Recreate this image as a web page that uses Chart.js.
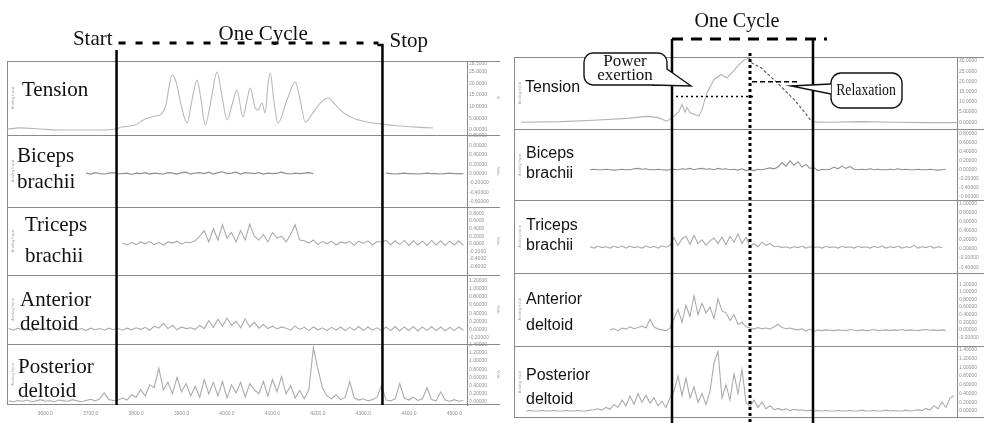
<!DOCTYPE html>
<html>
<head>
<meta charset="utf-8">
<title>Muscle activity over one cycle</title>
<script src="https://cdn.jsdelivr.net/npm/chart.js@4.4.1/dist/chart.umd.min.js"></script>
<style>
  html, body { margin: 0; padding: 0; background: #fff; }
  #wrap { position: relative; width: 984px; height: 423px; overflow: hidden; }
  #leftChart { position: absolute; left: 0; top: 0; }
  #rightChart { position: absolute; left: 494px; top: 0; }
</style>
</head>
<body>
<div id="wrap">
  <canvas id="leftChart" width="502" height="423"></canvas>
  <canvas id="rightChart" width="490" height="423"></canvas>
</div>
<script>
// ─── Time bases ──────────────────────────────────────────────────────────────
const leftT0 = 3520, leftDt = 10;      // left recording, sample spacing
const rightT0 = 0, rightDt = 4;        // right recording, sample spacing
const leftXRange = [3516, 4528];
const rightXRange = [0, 443];
const leftXTicks = [3600, 3700, 3800, 3900, 4000, 4100, 4200, 4300, 4400, 4500];

// ─── Cycle markers ───────────────────────────────────────────────────────────
const leftCycle = [3757, 4342];              // start, stop
const rightPhase = [158, 236, 299];          // power start, peak, relaxation end
const rightCycleBarEnd = 313;
const rightPowerLevel = 12.6, rightPowerSpan = [162, 240];
const rightRelaxLevel = 19.9, rightRelaxSpan = [238, 286];

// ─── Axis ranges and tick labels ─────────────────────────────────────────────
const tensionLRange = [-2.14, 29.5],  tensionLTicks = [0, 5, 10, 15, 20, 25, 28.5];
const bicepsLRange = [-0.71, 0.82],   bicepsLTicks = [0.8, 0.6, 0.4, 0.2, 0, -0.2, -0.4, -0.6];
const tricepsLRange = [-0.82, 0.97],  tricepsLTicks = [0.8, 0.6, 0.4, 0.2, 0, -0.2, -0.4, -0.6];
const anteriorLRange = [-0.36, 1.34], anteriorLTicks = [1.2, 1.0, 0.8, 0.6, 0.4, 0.2, 0, -0.2];
const posteriorLRange = [-0.07, 1.41], posteriorLTicks = [1.4, 1.2, 1.0, 0.8, 0.6, 0.4, 0.2, 0];

const tensionRRange = [-3.4, 32],     tensionRTicks = [0, 5, 10, 15, 20, 25, 30];
const bicepsRRange = [-0.69, 0.91],   bicepsRTicks = [0.8, 0.6, 0.4, 0.2, 0, -0.2, -0.4, -0.6];
const tricepsRRange = [-0.52, 1.07],  tricepsRTicks = [1.0, 0.8, 0.6, 0.4, 0.2, 0, -0.2, -0.4];
const anteriorRRange = [-0.42, 1.51], anteriorRTicks = [1.2, 1.0, 0.8, 0.6, 0.4, 0.2, 0, -0.2];
const posteriorRRange = [-0.16, 1.49], posteriorRTicks = [1.4, 1.2, 1.0, 0.8, 0.6, 0.4, 0.2, 0];

// ─── Left recording: tension (N) ─────────────────────────────────────────────
const tensionLTime = [3516, 3545, 3589, 3633, 3677, 3721, 3754, 3769, 3798, 3820, 3842, 3855,
  3866, 3872, 3879, 3888, 3899, 3912, 3923, 3934, 3943, 3952, 3965, 3978, 3989, 4000, 4011,
  4022, 4035, 4044, 4051, 4062, 4068, 4077, 4084, 4090, 4095, 4103, 4112, 4132, 4150, 4161,
  4172, 4189, 4205, 4222, 4235, 4249, 4277, 4308, 4337, 4381, 4425, 4453];
const tensionLVal = [0.4, 0.9, 0.4, 0, 0, 0, 0.4, 1.3, 2.1, 4.7, 6.0, 6.8,
  11.1, 17.9, 23.5, 20.5, 10.7, 3.0, 12.8, 21.4, 12.8, 2.1, 12.8, 24.8, 14.5, 4.3, 10.7,
  17.1, 5.6, 12.8, 17.9, 9.4, 8.5, 11.5, 7.3, 19.2, 24.4, 12.8, 3.0, 12.8, 20.5, 12.8,
  3.4, 7.3, 11.5, 13.7, 11.5, 8.5, 5.1, 3.4, 2.6, 1.7, 1.1, 0.9];

// ─── Left recording: EMG (V) ─────────────────────────────────────────────────
const bicepsL = [null, null, null, null, null, null, null, null, null, null, null, null, null, null, null, null, null,
  0.01, -0.01, 0.02, 0.00, -0.01, 0.01,
  0.02, -0.01, 0.00, 0.01, -0.02, 0.01, 0.00, 0.02, -0.01, 0.01, 0.00, -0.01, 0.02, 0.01, -0.01, 0.02, 0.03, -0.01, 0.01, 0.02,
  0.00, 0.03, -0.01, 0.02, 0.04, 0.00, 0.01, 0.03, -0.01, 0.02, 0.01, 0.00, 0.02, -0.01, 0.01, 0.00, 0.01, 0.03, 0.00, -0.01,
  0.01, 0.00, 0.01, 0.02, 0.00,
  null, null, null, null, null, null, null, null, null, null, null, null, null, null, null,
  0.01, 0.00, -0.01, 0.00, 0.01, 0.00, 0.00, -0.01, 0.00, 0.01, 0.00, 0.00, -0.01, 0.00, 0.01, 0.00, 0.00, 0.00];
const tricepsL = [null, null, null, null, null, null, null, null, null, null, null, null, null, null, null, null, null,
  null, null, null, null, null, null, null, null,
  0.02, -0.03, 0.04, -0.02, 0.05, 0.00, 0.06, -0.02, 0.04, -0.03, 0.05, 0.02, 0.07, -0.01, 0.05, 0.03, 0.08,
  0.20, 0.35, 0.05, 0.40, 0.10, 0.50, 0.15, 0.30, 0.05, 0.35, 0.10, 0.52, 0.20, 0.10, 0.25, 0.05, 0.30, 0.15, 0.20, 0.05,
  0.25, 0.50, 0.10,
  0.08, 0.02, 0.10, -0.02, 0.06, 0.00, 0.07, -0.03, 0.05, 0.02, 0.06, -0.04, 0.07, 0.01, 0.08, -0.03, 0.06, 0.05, 0.09, -0.03,
  0.08, -0.02, 0.09, -0.04, 0.08, -0.03, 0.07, -0.04, 0.09, -0.03, 0.08, -0.04, 0.07, -0.03, 0.08, -0.04];
const anteriorL = [0.02, -0.02, 0.03, -0.01, 0.02, -0.03, 0.03, 0.00, 0.02, -0.02, 0.03, -0.02, 0.04, -0.01, 0.03, -0.02,
  0.02, -0.03, 0.03, -0.01, 0.02, -0.02, 0.03, -0.01,
  0.02, -0.02, 0.03, -0.01, 0.04, 0.00, 0.05, -0.02, 0.08, 0.03, 0.15, 0.02, 0.10, -0.01, 0.06, 0.02, 0.04, 0.00,
  0.10, 0.02, 0.22, 0.05, 0.25, 0.08, 0.28, 0.10, 0.20, 0.04, 0.26, 0.06, 0.18, 0.03, 0.12, 0.02, 0.08, 0.01, 0.06,
  0.03, -0.02, 0.08, 0.00, 0.05, -0.03, 0.06, -0.01, 0.04, -0.03, 0.05, -0.02, 0.06, -0.03, 0.05, -0.02, 0.07, -0.03, 0.06, -0.02,
  0.04, -0.03, 0.06, -0.03, 0.07, -0.04, 0.06, -0.03, 0.07, -0.04, 0.06, -0.03, 0.07, -0.03, 0.06, -0.04, 0.05, -0.03, 0.06, -0.02];
const posteriorL = [0.03, 0.01, 0.04, 0.02, 0.05, 0.01, 0.03, 0.06, 0.02, 0.04, 0.01, 0.05, 0.03, 0.02, 0.06, 0.03,
  0.01, 0.04, 0.07, 0.03, 0.08, 0.22, 0.06,
  0.04, 0.05, 0.10, 0.05, 0.18, 0.12, 0.30, 0.15, 0.42, 0.35, 0.82, 0.30, 0.48, 0.20, 0.60, 0.25, 0.45, 0.15,
  0.38, 0.12, 0.55, 0.20, 0.48, 0.15, 0.50, 0.10, 0.42, 0.22, 0.48, 0.12, 0.45, 0.30, 0.20, 0.50, 0.15, 0.55, 0.25, 0.62,
  0.20, 0.40, 0.10, 0.28,
  0.08, 0.30, 1.32, 0.80, 0.35, 0.15, 0.08, 0.18, 0.06, 0.12, 0.50, 0.10, 0.05, 0.08, 0.03, 0.06, 0.12, 0.40,
  0.05, 0.03, 0.08, 0.45, 0.10, 0.05, 0.12, 0.04, 0.08, 0.35, 0.06, 0.03, 0.25, 0.05, 0.02, 0.06, 0.02, 0.04];

// ─── Right recording: tension (N) ────────────────────────────────────────────
const tensionRTime = [7, 47, 80, 113, 133, 143, 153, 160, 165, 168, 171, 173, 176, 180, 185, 188, 193,
  200, 207, 213, 218, 225, 230, 235, 238, 247, 263, 280, 290, 298, 313, 347, 380, 413, 443];
const tensionRVal = [0, 0.3, 1.0, 1.9, 2.9, 2.4, 0.5, 3.0, 5.3, 8.7, 5.0, 7.2, 4.8, 3.9, 3.0, 6.3, 14.5,
  21, 23.3, 21.8, 24.3, 28.2, 30.6, 31.5, 29, 26.7, 19.4, 11.2, 5.3, 0.2, 0, 0.3, 0, -0.2, -0.2];

// ─── Right recording: EMG (V) ────────────────────────────────────────────────
const bicepsR = [null, null, null, null, null, null, null, null, null, null, null, null, null, null, null, null, null, null, null,
  0.00, 0.01, 0.00, 0.00, 0.01, 0.00, -0.01, 0.00, 0.01, 0.00, 0.00, 0.02, 0.03, 0.01, 0.02, 0.00, 0.00, 0.01, 0.00, -0.01,
  0.00, 0.01, 0.00, 0.02, 0.01, 0.03, 0.00, 0.02, 0.03, 0.01, 0.02, 0.00, 0.03, 0.01, 0.02, 0.00, 0.01, -0.01, 0.02, -0.02,
  0.00, -0.02, 0.01, 0.00, 0.02, 0.04, 0.02, 0.06, 0.16, 0.08, 0.20, 0.10, 0.18, 0.06, 0.12, 0.03,
  0.05, -0.02, 0.01, 0.00, 0.01, 0.06, 0.02, 0.08, 0.03, 0.07, 0.01, 0.00, 0.01, 0.00, 0.02, 0.00, 0.01, 0.00, 0.00, 0.01,
  0.00, 0.02, 0.00, 0.01, 0.00, 0.00, 0.01, 0.00, 0.00, 0.01, 0.00, -0.01, 0.00, 0.01,
  null, null];
const tricepsR = [null, null, null, null, null, null, null, null, null, null, null, null, null, null, null, null, null, null, null,
  0.05, 0.02, 0.06, 0.03, 0.05, 0.02, 0.06, 0.03, 0.07, 0.02, 0.06, 0.03, 0.05, 0.02, 0.07, 0.03, 0.06, 0.02, 0.07, 0.04, 0.08,
  0.25, 0.08, 0.22, 0.28, 0.10, 0.30, 0.12, 0.20, 0.08, 0.18, 0.24, 0.12, 0.26, 0.10, 0.28, 0.15, 0.33, 0.12, 0.26,
  0.06, 0.12, 0.05, 0.15, 0.08, 0.12, 0.05, 0.06, 0.03, 0.05,
  0.02, 0.05, 0.03, 0.06, 0.02, 0.05, 0.03, 0.05, 0.02, 0.06, 0.03, 0.05, 0.02, 0.06, 0.03, 0.05, 0.02, 0.06, 0.03, 0.05,
  0.02, 0.06, 0.03, 0.07, 0.02, 0.05, 0.03, 0.06, 0.02, 0.05, 0.03, 0.08, 0.02, 0.05, 0.03, 0.06, 0.02, 0.05, 0.03,
  null, null, null];
const anteriorR = [null, null, null, null, null, null, null, null, null, null, null, null, null, null, null, null, null, null, null,
  null, null, null, null, null,
  0.00, 0.03, -0.02, 0.05, 0.02, 0.08, 0.03, 0.06, 0.10, 0.05, 0.28, 0.08, 0.02, 0.00, -0.02, 0.05,
  0.30, 0.55, 0.20, 0.65, 0.35, 0.90, 0.40, 0.70, 0.45, 0.60, 0.30, 0.82, 0.50, 0.45, 0.25, 0.40, 0.15, 0.20, 0.08,
  0.05, 0.02, 0.06, 0.03, 0.05, 0.02, 0.08, 0.15, 0.06, 0.03, 0.05, 0.02, 0.00, 0.03, -0.03, 0.02, -0.04, 0.00,
  -0.02, 0.00, -0.01, -0.02, 0.00, -0.01, -0.02, 0.01, -0.01, -0.02, 0.00, -0.02, -0.01, 0.01, -0.02, -0.01,
  0.00, -0.02, 0.00, -0.01, 0.01, -0.02, 0.00, -0.01, -0.02, 0.00, 0.01, -0.01, 0.00, -0.02, 0.00, -0.01,
  null, null];
const posteriorR = [null, null, null,
  0.00, 0.01, 0.00, 0.00, 0.01, 0.00, 0.00, 0.01, 0.00, 0.00, 0.01, 0.00, 0.00, 0.01, 0.00, 0.00, 0.02,
  0.03, 0.05, 0.02, 0.08, 0.04, 0.15, 0.08, 0.25, 0.12, 0.34, 0.15, 0.40, 0.20, 0.36, 0.18,
  0.30, 0.12, 0.22, 0.08, 0.30,
  0.45, 0.80, 0.35, 0.75, 0.30, 0.55, 0.20, 0.40, 0.15, 0.45, 1.10, 1.36, 0.30, 0.60, 0.25, 0.85, 0.40, 0.95, 0.20,
  0.10, 0.25, 0.08, 0.20, 0.05, 0.12, 0.03, 0.06, 0.02, 0.05, 0.01, 0.04, 0.02, 0.03, 0.00, 0.02, 0.00, 0.01,
  0.00, 0.01, 0.00, 0.00, 0.01, 0.00, 0.00, 0.01, 0.00, 0.00, 0.02, 0.00, 0.00, 0.01, 0.00, 0.00, 0.02, 0.00, 0.01, 0.00,
  0.00, 0.02, 0.00, 0.01, 0.03, 0.01,
  0.06, 0.02, 0.12, 0.05, 0.20, 0.08, 0.30, 0.35];

// ─── Helpers ─────────────────────────────────────────────────────────────────
const TRACE = '#ababab';
const FRAME = '#8a8a8a';

function fmtTick(v, dec) {
  return Math.abs(v) >= 1 ? v.toPrecision(dec + 1) : v.toFixed(dec);
}

function sampled(values, t0, dt) {
  return values.map((v, i) => ({ x: t0 + i * dt, y: v }));
}

function paired(times, values) {
  return times.map((t, i) => ({ x: t, y: values[i] }));
}

function trace(data, axis, color) {
  return { data, yAxisID: axis, borderColor: color || TRACE, borderWidth: 1.1,
           pointRadius: 0, fill: false, spanGaps: false, tension: 0 };
}

function yAxis(stack, weight, range, ticks, dec, unit, colW) {
  return {
    type: 'linear', position: 'right', stack: stack, stackWeight: weight,
    min: range[0], max: range[1],
    grid: { display: false, drawTicks: false },
    border: { display: true, color: FRAME },
    afterBuildTicks: s => { s.ticks = ticks.map(v => ({ value: v })); },
    afterFit: s => { s.width = colW; },
    ticks: { autoSkip: false, padding: 2, color: '#8f8f8f',
             font: { family: 'Liberation Sans', size: 5 },
             callback: v => fmtTick(v, dec) },
    title: { display: !!unit, text: unit || '', color: '#a0a0a0', padding: 1,
             font: { family: 'Liberation Sans', size: 4 } }
  };
}

function stroke(ctx, pts, w, dash) {
  ctx.save();
  ctx.strokeStyle = '#000';
  ctx.lineWidth = w;
  ctx.setLineDash(dash || []);
  ctx.beginPath();
  pts.forEach((p, i) => i ? ctx.lineTo(p[0], p[1]) : ctx.moveTo(p[0], p[1]));
  ctx.stroke();
  ctx.restore();
}

function text(ctx, str, x, y, font, align) {
  ctx.save();
  ctx.fillStyle = '#111';
  ctx.font = font;
  ctx.textAlign = align || 'left';
  ctx.textBaseline = 'alphabetic';
  ctx.fillText(str, x, y);
  ctx.restore();
}

function stripFrame(chart, ids, rightEdge) {
  const { ctx, chartArea } = chart;
  ctx.save();
  ctx.strokeStyle = FRAME;
  ctx.lineWidth = 1;
  ctx.beginPath();
  ids.forEach((id, k) => {
    const s = chart.scales[id];
    const y = Math.round(s.top) + 0.5;
    ctx.moveTo(chartArea.left, y); ctx.lineTo(rightEdge, y);
    if (k === ids.length - 1) {
      const yb = Math.round(s.bottom) - 0.5;
      ctx.moveTo(chartArea.left, yb); ctx.lineTo(rightEdge, yb);
    }
  });
  const xl = Math.round(chartArea.left) + 0.5;
  ctx.moveTo(xl, chartArea.top); ctx.lineTo(xl, chartArea.bottom);
  ctx.stroke();
  ctx.fillStyle = '#a8a8a8';
  ctx.font = '4px "Liberation Sans"';
  ctx.textAlign = 'center';
  ids.forEach(id => {
    const s = chart.scales[id];
    ctx.save();
    ctx.translate(chartArea.left + 5, (s.top + s.bottom) / 2);
    ctx.rotate(-Math.PI / 2);
    ctx.fillText('Analog Input', 0, 1.5);
    ctx.restore();
  });
  ctx.restore();
}

function callout(ctx, x, y, w, h, r, b1, b2, tip) {
  ctx.save();
  ctx.lineWidth = 1.4;
  ctx.strokeStyle = '#111';
  ctx.fillStyle = '#fff';
  ctx.beginPath(); ctx.roundRect(x, y, w, h, r); ctx.fill(); ctx.stroke();
  ctx.beginPath(); ctx.moveTo(b1[0], b1[1]); ctx.lineTo(tip[0], tip[1]); ctx.lineTo(b2[0], b2[1]);
  ctx.closePath(); ctx.fill();
  ctx.beginPath(); ctx.moveTo(b1[0], b1[1]); ctx.lineTo(tip[0], tip[1]); ctx.lineTo(b2[0], b2[1]);
  ctx.stroke();
  ctx.restore();
}

function baseOptions(pad) {
  return {
    responsive: false, animation: false, devicePixelRatio: 1, events: [],
    layout: { padding: pad },
    plugins: { legend: { display: false }, tooltip: { enabled: false } }
  };
}

// ─── 1. Left recording ───────────────────────────────────────────────────────
const leftIds = ['lT', 'lB', 'lTr', 'lA', 'lP'];
const leftSerif = '21px "Liberation Serif"';
const leftLabels = [['Tension', 22, 96], ['Biceps', 17, 162], ['brachii', 17, 188],
  ['Triceps', 25, 231], ['brachii', 25, 262], ['Anterior', 20, 306], ['deltoid', 20, 330],
  ['Posterior', 18, 373], ['deltoid', 18, 397]];

const leftDecor = {
  id: 'leftDecor',
  beforeDatasetsDraw(chart) { stripFrame(chart, leftIds, 500); },
  afterDatasetsDraw(chart) {
    const ctx = chart.ctx, x = chart.scales.x, bottom = chart.chartArea.bottom;
    const xs = x.getPixelForValue(leftCycle[0]);
    const xe = x.getPixelForValue(leftCycle[1]);
    stroke(ctx, [[xs, 50], [xs, bottom]], 2.5);
    stroke(ctx, [[xe - 5, 45], [xe, 45], [xe, bottom]], 2.5);
    stroke(ctx, [[xs + 2, 43], [xe - 4, 43]], 3, [7, 10]);
    text(ctx, 'Start', xs - 4, 45, leftSerif, 'right');
    text(ctx, 'One Cycle', xs + 102, 40, leftSerif);
    text(ctx, 'Stop', xe + 7, 47, leftSerif);
    leftLabels.forEach(l => text(ctx, l[0], l[1], l[2], leftSerif));
  }
};

const leftOpts = baseOptions({ left: 7, top: 61, right: 0, bottom: 0 });
leftOpts.scales = {
  x: {
    type: 'linear', position: 'bottom', min: leftXRange[0], max: leftXRange[1],
    grid: { display: false, drawTicks: false }, border: { display: false },
    afterBuildTicks: s => { s.ticks = leftXTicks.map(v => ({ value: v })); },
    afterFit: s => { s.height = 18; },
    ticks: { autoSkip: false, maxRotation: 0, padding: 6, color: '#8f8f8f',
             font: { family: 'Liberation Sans', size: 5 }, callback: v => v.toFixed(1) }
  },
  lT:  yAxis('L', 74, tensionLRange, tensionLTicks, 5, 'N', 35),
  lB:  yAxis('L', 72, bicepsLRange, bicepsLTicks, 5, 'Volts', 35),
  lTr: yAxis('L', 68, tricepsLRange, tricepsLTicks, 4, 'Volts', 35),
  lA:  yAxis('L', 69, anteriorLRange, anteriorLTicks, 5, 'Volts', 35),
  lP:  yAxis('L', 61, posteriorLRange, posteriorLTicks, 5, 'Volts', 35)
};

new Chart(document.getElementById('leftChart'), {
  type: 'line',
  data: {
    datasets: [
      Object.assign(trace(paired(tensionLTime, tensionLVal), 'lT', '#b8b8b8'), { cubicInterpolationMode: 'monotone' }),
      trace(sampled(bicepsL, leftT0, leftDt), 'lB', '#909090'),
      trace(sampled(tricepsL, leftT0, leftDt), 'lTr'),
      trace(sampled(anteriorL, leftT0, leftDt), 'lA'),
      trace(sampled(posteriorL, leftT0, leftDt), 'lP')
    ]
  },
  options: leftOpts,
  plugins: [leftDecor]
});

// ─── 2. Right recording ──────────────────────────────────────────────────────
const rightIds = ['rT', 'rB', 'rTr', 'rA', 'rP'];
const rightSans = '16px "Liberation Sans"';
const rightSerif = '17px "Liberation Serif"';
const rightLabels = [['Tension', 31, 92], ['Biceps', 32, 158], ['brachii', 32, 178],
  ['Triceps', 32, 230], ['brachii', 32, 250], ['Anterior', 32, 304], ['deltoid', 32, 330],
  ['Posterior', 32, 380], ['deltoid', 32, 404]];

const peakTimeR = tensionRTime[tensionRVal.indexOf(Math.max(...tensionRVal))];
const inRelax = c => c.p0.parsed.x >= peakTimeR && c.p1.parsed.x <= rightPhase[2];

const rightDecor = {
  id: 'rightDecor',
  beforeDatasetsDraw(chart) { stripFrame(chart, rightIds, 490); },
  afterDatasetsDraw(chart) {
    const ctx = chart.ctx, x = chart.scales.x, yT = chart.scales.rT, H = chart.height;
    const xl = x.getPixelForValue(rightPhase[0]);
    const xp = x.getPixelForValue(rightPhase[1]);
    const xr = x.getPixelForValue(rightPhase[2]);
    const yPow = yT.getPixelForValue(rightPowerLevel);
    const yRel = yT.getPixelForValue(rightRelaxLevel);
    stroke(ctx, [[x.getPixelForValue(rightPowerSpan[0]), yPow], [x.getPixelForValue(rightPowerSpan[1]), yPow]], 1.6, [2, 3]);
    stroke(ctx, [[x.getPixelForValue(rightRelaxSpan[0]), yRel], [x.getPixelForValue(rightRelaxSpan[1]), yRel]], 1.6, [5, 3]);
    stroke(ctx, [[xl, 39], [xl, H]], 2.5);
    stroke(ctx, [[xr, 39], [xr, H]], 2.5);
    stroke(ctx, [[xl, 39], [x.getPixelForValue(rightCycleBarEnd), 39]], 3, [11, 8]);
    stroke(ctx, [[xp, 53], [xp, H]], 3, [3, 3]);
    text(ctx, 'One Cycle', 243, 27, '20px "Liberation Serif"', 'center');

    callout(ctx, 90, 53, 83, 32, 9, [173, 69], [158, 85], [197, 86]);
    text(ctx, 'Power', 131, 66, rightSerif, 'center');
    text(ctx, 'exertion', 131, 80, rightSerif, 'center');

    callout(ctx, 337, 73, 71, 35, 10, [337, 84], [337, 94], [297, 86]);
    ctx.save();
    ctx.translate(372, 95);
    ctx.scale(0.86, 1);
    text(ctx, 'Relaxation', 0, 0, '16px "Liberation Serif"', 'center');
    ctx.restore();

    rightLabels.forEach(l => text(ctx, l[0], l[1], l[2], rightSans));
  }
};

const rightOpts = baseOptions({ left: 20, top: 57, right: 0, bottom: 1 });
rightOpts.scales = {
  x: { type: 'linear', display: false, min: rightXRange[0], max: rightXRange[1] },
  rT:  yAxis('R', 73, tensionRRange, tensionRTicks, 5, '', 27),
  rB:  yAxis('R', 72, bicepsRRange, bicepsRTicks, 5, '', 27),
  rTr: yAxis('R', 73, tricepsRRange, tricepsRTicks, 5, '', 27),
  rA:  yAxis('R', 74, anteriorRRange, anteriorRTicks, 5, '', 27),
  rP:  yAxis('R', 73, posteriorRRange, posteriorRTicks, 5, '', 27)
};

new Chart(document.getElementById('rightChart'), {
  type: 'line',
  data: {
    datasets: [
      Object.assign(trace(paired(tensionRTime, tensionRVal), 'rT', '#b3b3b3'), {
        segment: {
          borderColor: c => inRelax(c) ? '#555' : undefined,
          borderDash: c => inRelax(c) ? [3, 2] : undefined
        }
      }),
      trace(sampled(bicepsR, rightT0, rightDt), 'rB', '#909090'),
      trace(sampled(tricepsR, rightT0, rightDt), 'rTr'),
      trace(sampled(anteriorR, rightT0, rightDt), 'rA'),
      trace(sampled(posteriorR, rightT0, rightDt), 'rP')
    ]
  },
  options: rightOpts,
  plugins: [rightDecor]
});
</script>
</body>
</html>
